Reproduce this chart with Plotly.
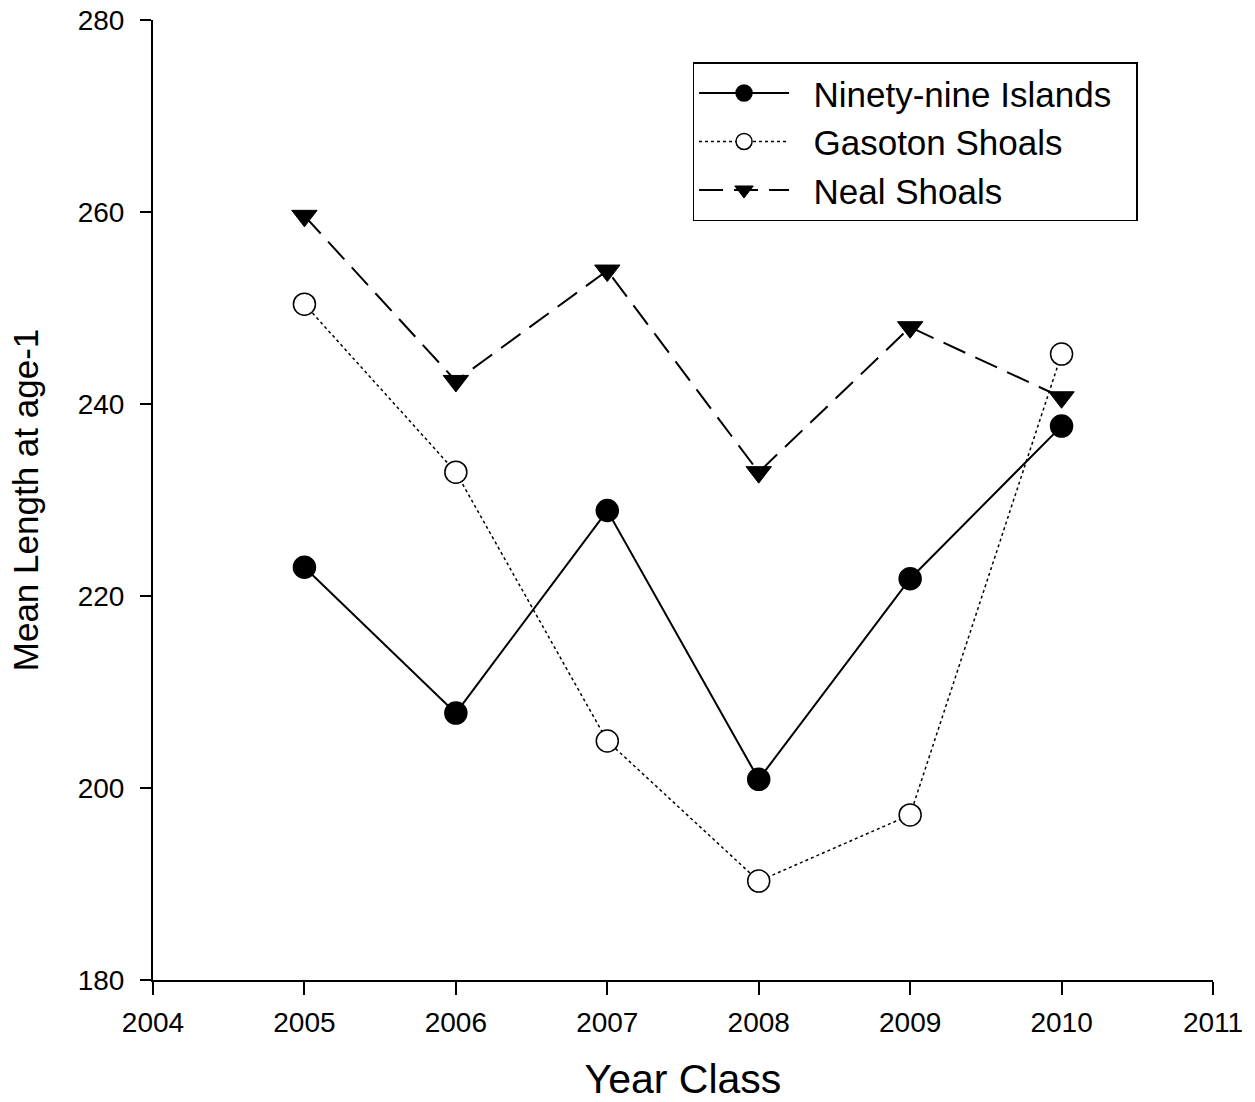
import plotly.graph_objects as go

years = [2005, 2006, 2007, 2008, 2009, 2010]
ninety_nine = [223.0, 207.8, 228.9, 200.9, 221.8, 237.7]
gasoton = [250.4, 232.9, 204.9, 190.3, 197.2, 245.2]
neal = [259.6, 242.4, 253.9, 232.9, 248.0, 240.7]

series_names = ["Ninety-nine Islands", "Gasoton Shoals", "Neal Shoals"]
x_ticks = [2004, 2005, 2006, 2007, 2008, 2009, 2010, 2011]
y_ticks = [180, 200, 220, 240, 260, 280]

PAD_L = "\u00a0\u00a0"
PAD_R = "\u00a0\u00a0"

fig = go.Figure()
fig.add_trace(go.Scatter(
    x=years, y=ninety_nine, name=PAD_L + series_names[0] + PAD_R, mode="lines+markers",
    line=dict(color="black", width=2, dash="solid"),
    marker=dict(symbol="circle", size=22, color="black", line=dict(color="black", width=1.5)),
))
fig.add_trace(go.Scatter(
    x=years, y=gasoton, name=PAD_L + series_names[1] + PAD_R, mode="lines+markers",
    line=dict(color="black", width=1.5, dash="dot"),
    marker=dict(symbol="circle", size=22, color="white", line=dict(color="black", width=1.5)),
))
fig.add_trace(go.Scatter(
    x=years, y=neal, name=PAD_L + series_names[2] + PAD_R, mode="lines+markers",
    line=dict(color="black", width=2, dash="24px,11px"),
    marker=dict(symbol="triangle-down", size=22, color="black", line=dict(color="black", width=1)),
))

font_family = "Liberation Sans, Arial, Helvetica, sans-serif"

fig.update_layout(
    width=1255, height=1102,
    margin=dict(l=153, r=42, t=20, b=122, autoexpand=False),
    paper_bgcolor="white", plot_bgcolor="white",
    font=dict(family=font_family, color="black"),
    showlegend=True,
    legend=dict(
        x=0.509, y=0.956, xanchor="left", yanchor="top",
        bgcolor="white", bordercolor="black", borderwidth=1.5,
        font=dict(size=35, family=font_family),
        itemwidth=90, tracegroupgap=0,
    ),
    xaxis=dict(
        range=[2004, 2011], tickmode="array", tickvals=x_ticks,
        ticktext=[str(v) for v in x_ticks], automargin=False,
        showgrid=False, zeroline=False, showline=True, linecolor="black", linewidth=2,
        ticks="outside", ticklen=13, tickwidth=2, tickcolor="black",
        tickfont=dict(size=28), ticklabelstandoff=3,
        title=dict(text="Year Class", font=dict(size=41), standoff=28),
    ),
    yaxis=dict(
        range=[180, 280], tickmode="array", tickvals=y_ticks,
        ticktext=[str(v) for v in y_ticks], automargin=False,
        showgrid=False, zeroline=False, showline=True, linecolor="black", linewidth=2,
        ticks="outside", ticklen=11, tickwidth=2, tickcolor="black",
        tickfont=dict(size=28), ticklabelstandoff=10,
        title=dict(text="Mean Length at age-1", font=dict(size=35), standoff=28),
    ),
)

fig.write_html("out.html")
